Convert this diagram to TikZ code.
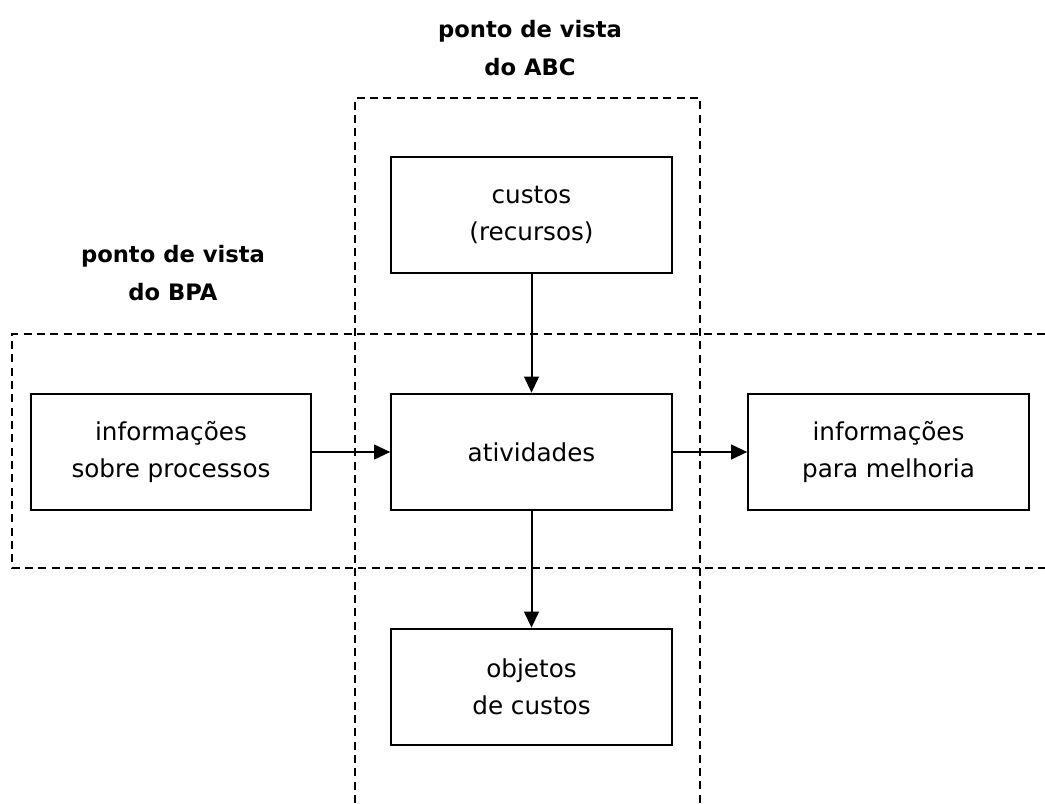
\documentclass[tikz,border=0pt]{standalone}
\usepackage{fontspec}
\setmainfont{DejaVu Sans}
\usetikzlibrary{arrows.meta}

\begin{document}
\begin{tikzpicture}[x=.75pt, y=-.75pt,
    caixa/.style={draw, line width=1.5pt, minimum width=210.5pt, minimum height=87.5pt,
                  align=center, font=\fontsize{18.5}{28}\selectfont},
    titulo/.style={align=center, font=\bfseries\fontsize{17}{28}\selectfont},
    tracejado/.style={line width=1.3pt, dash pattern=on 6pt off 4pt},
    seta/.style={-{Triangle[length=12pt,width=11pt]}, line width=1.5pt}]
  \useasboundingbox (0,0) rectangle (1045,803);
  % zonas dos dois pontos de vista
  \draw[tracejado] (355,803) -- (355,98) -- (700,98) -- (700,803);
  \draw[tracejado] (1045,334) -- (12,334) -- (12,568) -- (1045,568);
  \node[titulo] (abc) at (530,48) {ponto de vista\\do ABC};
  \node[titulo] (bpa) at (173,273) {ponto de vista\\do BPA};
  % caixas
  \node[caixa] (custos) at (531.5,215) {custos\\(recursos)};
  \node[caixa] (atividades) at (531.5,452) {atividades};
  \node[caixa] (processos) at (171,452) {informações\\sobre processos};
  \node[caixa] (melhoria) at (888.5,452) {informações\\para melhoria};
  \node[caixa] (objetos) at (531.5,687) {objetos\\de custos};
  % setas
  \draw[seta] (custos) -- (atividades);
  \draw[seta] (processos) -- (atividades);
  \draw[seta] (atividades) -- (melhoria);
  \draw[seta] (atividades) -- (objetos);
\end{tikzpicture}
\end{document}
